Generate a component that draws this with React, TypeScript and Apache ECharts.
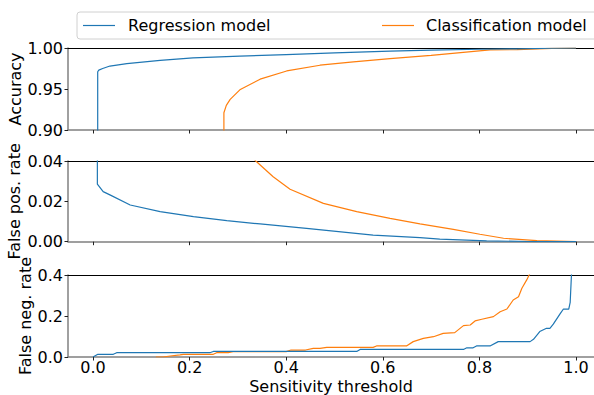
import React, { useEffect, useRef } from "react";
import * as echarts from "echarts";

const xTicks = [0, 0.2, 0.4, 0.6, 0.8, 1.0];

// Panel 1: Accuracy
const accRegX = [0.0097, 0.0097, 0.012, 0.02, 0.035, 0.07, 0.139, 0.207, 0.304, 0.4, 0.5, 0.615, 0.7, 0.8, 0.878, 0.95, 1.0];
const accRegY = [0.8, 0.971, 0.973, 0.975, 0.978, 0.981, 0.985, 0.988, 0.99, 0.992, 0.994, 0.9963, 0.9975, 0.9985, 0.999, 0.9997, 1.0];
const accClsX = [0.271, 0.271, 0.276, 0.284, 0.304, 0.346, 0.401, 0.47, 0.539, 0.615, 0.7, 0.822, 0.878, 0.95, 1.0];
const accClsY = [0.8, 0.921, 0.93, 0.9374, 0.949, 0.962, 0.972, 0.979, 0.983, 0.987, 0.991, 0.9976, 0.998, 0.9995, 1.0];

// Panel 2: False positive rate
const fprRegX = [0.009, 0.009, 0.021, 0.035, 0.077, 0.139, 0.208, 0.277, 0.346, 0.442, 0.58, 0.677, 0.718, 0.815, 0.9, 1.0];
const fprRegY = [0.08, 0.0285, 0.0248, 0.0232, 0.0182, 0.0149, 0.0124, 0.0104, 0.0088, 0.0066, 0.0033, 0.002, 0.0013, 0.0004, 0.0001, 0];
const fprClsX = [0.3, 0.337, 0.373, 0.408, 0.477, 0.546, 0.615, 0.677, 0.746, 0.801, 0.85, 0.919, 1.0];
const fprClsY = [0.05, 0.04, 0.0322, 0.026, 0.019, 0.0149, 0.0116, 0.0088, 0.0061, 0.0037, 0.0017, 0.0005, 0];

// Panel 3: False negative rate
const fnrRegX = [0, 0.01, 0.042, 0.049, 0.242, 0.249, 0.546, 0.553, 0.767, 0.774, 0.787, 0.794, 0.822, 0.839, 0.905, 0.912, 0.925, 0.939, 0.946, 0.953, 0.967, 0.974, 0.985, 0.988, 0.991, 0.995];
const fnrRegY = [0, 0.013, 0.013, 0.021, 0.021, 0.027, 0.027, 0.037, 0.037, 0.045, 0.045, 0.054, 0.054, 0.075, 0.075, 0.086, 0.124, 0.14, 0.14, 0.16, 0.21, 0.234, 0.234, 0.267, 0.42, 1.0];
const fnrClsX = [0.13, 0.145, 0.16, 0.18, 0.187, 0.249, 0.256, 0.28, 0.29, 0.4, 0.41, 0.44, 0.456, 0.47, 0.484, 0.58, 0.587, 0.649, 0.663, 0.684, 0.705, 0.725, 0.749, 0.767, 0.781, 0.791, 0.805, 0.829, 0.843, 0.857, 0.87, 0.881, 0.888, 0.898, 0.903, 0.92];
const fnrClsY = [0, 0, 0.005, 0.01, 0.013, 0.013, 0.021, 0.021, 0.026, 0.026, 0.034, 0.034, 0.042, 0.042, 0.047, 0.047, 0.054, 0.054, 0.075, 0.091, 0.099, 0.115, 0.119, 0.153, 0.156, 0.176, 0.184, 0.197, 0.221, 0.234, 0.278, 0.294, 0.335, 0.376, 0.4, 0.5];

const BLUE = "#1f77b4";
const ORANGE = "#ff7f0e";
const FONT = "DejaVu Sans";
const FS = 16;

const zip = (xs: number[], ys: number[]) => xs.map((x, i) => [x, ys[i]]);

export default function App() {
  const ref = useRef<HTMLDivElement>(null);
  useEffect(() => {
    if (!ref.current) return;
    const chart = echarts.init(ref.current, null, { renderer: "svg" });
    const grids = [
      { left: 68, right: 0, top: 48, height: 82, outerBoundsMode: "none", containLabel: false },
      { left: 68, right: 0, top: 161, height: 80.7, outerBoundsMode: "none", containLabel: false },
      { left: 68, right: 0, top: 275, height: 82, outerBoundsMode: "none", containLabel: false },
    ];
    const XMIN = -0.0518;
    const XMAX = 1.0373;
    const xAxes: any[] = [];
    grids.forEach((_, i) => {
      xAxes.push({
        type: "value",
        gridIndex: i,
        position: "bottom",
        min: XMIN,
        max: XMAX,
        splitLine: { show: false },
        axisLine: { show: true, onZero: false, lineStyle: { color: "#808080", width: 1.5 } },
        axisTick: { show: true, length: 3.5, customValues: xTicks, lineStyle: { color: "#222", width: 1 } },
        axisLabel: {
          show: i === 2,
          customValues: xTicks,
          formatter: (v: number) => v.toFixed(1),
          fontFamily: FONT,
          fontSize: FS,
          lineHeight: 16,
          color: "#000",
          margin: 2,
        },
        name: i === 2 ? "Sensitivity threshold" : "",
        nameLocation: "middle",
        nameGap: 21,
        nameMoveOverlap: false,
        nameTextStyle: { fontFamily: FONT, fontSize: FS, lineHeight: 16, color: "#000", verticalAlign: "top" },
      });
      xAxes.push({
        type: "value",
        gridIndex: i,
        position: "top",
        min: XMIN,
        max: XMAX,
        splitLine: { show: false },
        axisLine: { show: true, onZero: false, lineStyle: { color: "#000", width: 1 } },
        axisTick: { show: false },
        axisLabel: { show: false },
      });
    });
    const yCommon = (i: number, min: number, max: number, interval: number, dec: number, name: string, gap: number) => ({
      type: "value",
      gridIndex: i,
      min,
      max,
      interval,
      splitLine: { show: false },
      axisLine: { show: true, onZero: false, lineStyle: { color: "#808080", width: 1.5 } },
      axisTick: { show: true, length: 3.5, lineStyle: { color: "#222", width: 1 } },
      axisLabel: {
        formatter: (v: number) => v.toFixed(dec),
        fontFamily: FONT,
        fontSize: FS,
        color: "#000",
        margin: 5,
      },
      name,
      nameLocation: "middle",
      nameGap: gap,
      nameMoveOverlap: false,
      nameTextStyle: { fontFamily: FONT, fontSize: FS, color: "#000" },
    });
    const yAxes = [
      yCommon(0, 0.9, 1.0, 0.05, 2, "Accuracy", 45),
      yCommon(1, 0, 0.04, 0.02, 2, "False pos. rate", 46),
      yCommon(2, 0, 0.4, 0.2, 1, "False neg. rate", 35),
    ];
    const mk = (name: string, color: string, data: number[][], i: number) => ({
      name,
      type: "line",
      xAxisIndex: i * 2,
      yAxisIndex: i,
      data,
      showSymbol: false,
      symbol: "none",
      clip: true,
      lineStyle: { color, width: 1.2 },
      itemStyle: { color },
      z: name === "Regression model" ? 3 : 2,
    });
    chart.setOption({
      animation: false,
      backgroundColor: "#fff",
      grid: grids,
      xAxis: xAxes,
      yAxis: yAxes,
      series: [
        mk("Regression model", BLUE, zip(accRegX, accRegY), 0),
        mk("Classification model", ORANGE, zip(accClsX, accClsY), 0),
        mk("Regression model", BLUE, zip(fprRegX, fprRegY), 1),
        mk("Classification model", ORANGE, zip(fprClsX, fprClsY), 1),
        mk("Regression model", BLUE, zip(fnrRegX, fnrRegY), 2),
        mk("Classification model", ORANGE, zip(fnrClsX, fnrClsY), 2),
      ],
      graphic: [
        {
          type: "rect",
          shape: { x: 77, y: 12, width: 530, height: 27, r: 3 },
          style: { fill: "#fff", stroke: "#d0d0d0", lineWidth: 1 },
        },
        { type: "line", shape: { x1: 83, y1: 25.5, x2: 115, y2: 25.5 }, style: { stroke: BLUE, lineWidth: 1.2 } },
        {
          type: "text",
          x: 128,
          y: 25.5,
          style: { text: "Regression model", fontFamily: FONT, fontSize: FS, fill: "#000", verticalAlign: "middle" },
        },
        { type: "line", shape: { x1: 382, y1: 25.5, x2: 414, y2: 25.5 }, style: { stroke: ORANGE, lineWidth: 1.2 } },
        {
          type: "text",
          x: 426,
          y: 25.5,
          style: { text: "Classification model", fontFamily: FONT, fontSize: FS, fill: "#000", verticalAlign: "middle" },
        },
      ],
    });
    return () => chart.dispose();
  }, []);
  return <div ref={ref} style={{ width: 594, height: 395, position: "absolute", left: 0, top: 0 }} />;
}
